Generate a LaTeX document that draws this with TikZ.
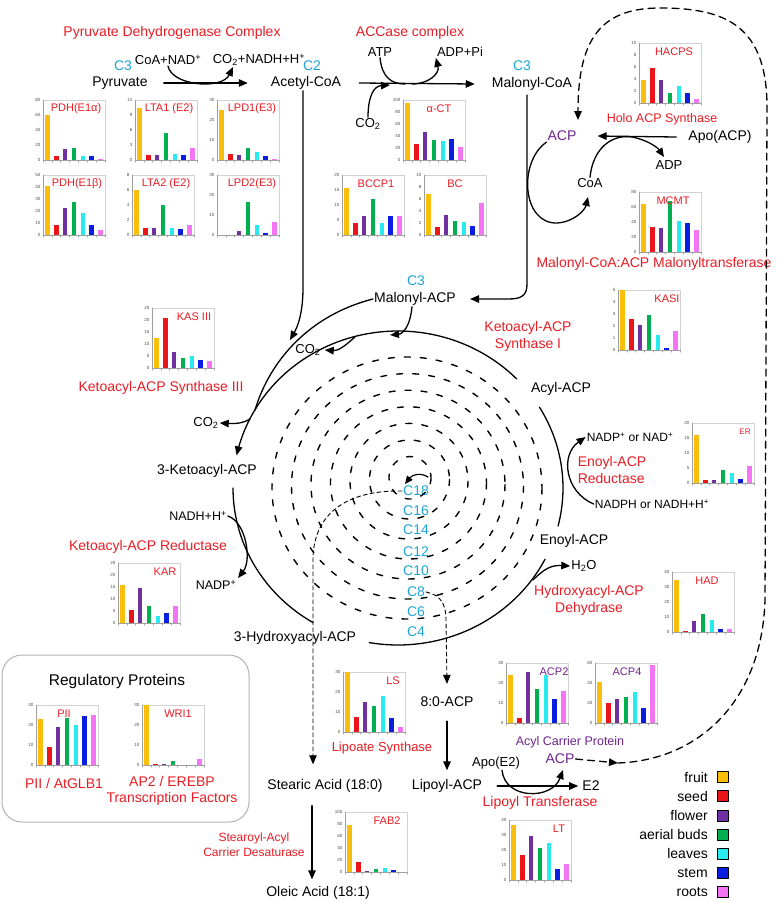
\documentclass[tikz,border=0pt]{standalone}
\usepackage{fontspec}
\setmainfont{Liberation Sans}
\usepackage{tikz}
\usetikzlibrary{arrows.meta}

\definecolor{fruitc}{RGB}{250,190,10}
\definecolor{seedc}{RGB}{235,20,25}
\definecolor{flowerc}{RGB}{112,48,160}
\definecolor{budc}{RGB}{0,176,80}
\definecolor{leafc}{RGB}{40,235,240}
\definecolor{stemc}{RGB}{10,30,225}
\definecolor{rootc}{RGB}{245,115,245}
\definecolor{enzred}{RGB}{232,28,36}
\definecolor{carbcyan}{RGB}{30,165,215}
\definecolor{acppurple}{RGB}{110,35,140}
\colorlet{bar1}{fruitc}
\colorlet{bar2}{seedc}
\colorlet{bar3}{flowerc}
\colorlet{bar4}{budc}
\colorlet{bar5}{leafc}
\colorlet{bar6}{stemc}
\colorlet{bar7}{rootc}

% small expression chart: top-left, max, step, title x, title, title colour, values
\newcommand{\expchart}[7]{%
  \begin{scope}[shift={#1}]
    \draw[gray!35, line width=0.5pt] (0,0) rectangle (62,60);
    \foreach \v [count=\i] in {#7}
      \fill[fill=bar\i] ({(\i-0.5)*8.86-2.3},60) rectangle ++(4.6,{-60*\v/#2});
    \draw[gray!75, line width=0.6pt] (0,0) -- (0,60) -- (62,60);
    \foreach \k in {0,...,7}
      \draw[gray!75, line width=0.5pt] ({\k*8.86},60) -- ++(0,2.2);
    \foreach \t in {0,#3,...,#2}
      \node[ticklbl] at (-2,{60-60*\t/#2}) {\t};
    \node[charttitle, text=#6] at (#4,9) {#5};
  \end{scope}}

\begin{document}
\begin{tikzpicture}[x=1pt, y=-1pt,
    line cap=round,
    line join=round,
    lbl/.style={font=\fontsize{14}{17}\selectfont, inner sep=1pt},
    cof/.style={font=\fontsize{13}{15}\selectfont, inner sep=1pt},
    enz/.style={font=\fontsize{14}{17}\selectfont, text=enzred, inner sep=1pt, align=center},
    carb/.style={font=\fontsize{14}{16}\selectfont, text=carbcyan, inner sep=1pt},
    acpl/.style={font=\fontsize{14}{16}\selectfont, text=acppurple, inner sep=1pt},
    ticklbl/.style={font=\fontsize{4.5}{5}\selectfont, text=gray!60!black, anchor=east, inner sep=0.5pt},
    charttitle/.style={font=\fontsize{11}{12}\selectfont, inner sep=0pt},
    flow/.style={line width=1.3pt},
    arr/.style={line width=1.3pt, -{Triangle[length=9pt,width=7.5pt]}},
    ring/.style={line width=1.4pt, dash pattern=on 6pt off 10pt},
    thindash/.style={line width=0.9pt, dash pattern=on 4pt off 3pt},
    loopdash/.style={line width=1.3pt, dash pattern=on 7pt off 5pt}
]
\useasboundingbox (0,0) rectangle (778,903);

% Charts
\expchart{(43,100)}{80}{20}{33}{PDH(E1α)}{enzred}{60,5,15,16,6,5,1}
\expchart{(135,100)}{12}{3}{34}{LTA1 (E2)}{enzred}{10.5,1,1,5.4,1.3,1,2.4}
\expchart{(217,100)}{30}{10}{35}{LPD1(E3)}{enzred}{25,3,2.5,6,4,2,0.3}
\expchart{(43,175)}{50}{10}{34}{PDH(E1β)}{enzred}{41,8,22.5,27.5,18,8.5,4}
\expchart{(132,175)}{8}{2}{34}{LTA2 (E2)}{enzred}{6,1,1,4,1,0.8,1.3}
\expchart{(217,175)}{30}{10}{35}{LPD2(E3)}{enzred}{0,0,2,16.5,5,1,6.5}
\expchart{(403,100)}{100}{20}{36}{α-CT}{enzred}{95,27,47,33,32,35,22}
\expchart{(342,175)}{20}{5}{34}{BCCP1}{enzred}{15.7,4,6.5,12,4,6.2,6.5}
\expchart{(424,175)}{10}{2}{31}{BC}{enzred}{6.8,1.3,3.4,2.4,2.2,1.5,5.3}
\expchart{(639,43)}{10}{2}{35}{HACPS}{enzred}{3.9,5.9,3.8,1.7,2.9,1.7,0.7}
\expchart{(639,192)}{80}{20}{34}{MCMT}{enzred}{64,34,32,68,41,39,29}
\expchart{(152,308)}{25}{5}{42}{KAS III}{enzred}{12.5,21,6.7,4.3,5,3.5,2.8}
\expchart{(618,290)}{5}{1}{49}{KASI}{enzred}{5,2.6,2.1,2.9,1.25,0.2,1.55}
\expchart{(692,423)}{20}{5}{53}{\fontsize{8}{9}\selectfont ER}{enzred}{16,1,1,4.2,3.2,1.2,5.8}
\expchart{(118,563)}{25}{5}{47}{KAR}{enzred}{16,5.5,14.5,7,3,4,7}
\expchart{(672,572)}{40}{10}{35}{HAD}{enzred}{35,1,7.5,12,8,2,2}
\expchart{(343,672)}{30}{10}{50}{LS}{enzred}{30,7.5,15,12.8,18,7,2.3}
\expchart{(345,812)}{100}{20}{42}{FAB2}{enzred}{79,17,2,4.5,6,3,0.5}
\expchart{(506,663)}{30}{10}{48}{ACP2}{acppurple}{24,2.5,25.5,16.8,24,12,16.2}
\expchart{(595,663)}{60}{20}{32}{ACP4}{acppurple}{41,20,24.5,26.5,31.5,15,58}
\expchart{(509,820)}{40}{10}{50}{LT}{enzred}{37,17,29.5,21.5,24.5,7.2,10.5}
\expchart{(36,705)}{30}{10}{28}{PII}{enzred}{23,9.2,19,23.3,20,24.3,25}
\expchart{(142,705)}{30}{10}{36}{WRI1}{enzred}{30,0.5,0.5,2,0,0.2,3}

% Top line: pyruvate to malonyl-CoA
\node[enz] (pdhc) at (172,33) {Pyruvate Dehydrogenase Complex};
\node[enz] (accase) at (410,33) {ACCase complex};
\node[carb] (cthreea) at (123,66) {C3};
\node[carb] (ctwo) at (312,66) {C2};
\node[carb] (cthreeb) at (522,66) {C3};
\node[lbl] (pyr) at (120,83) {Pyruvate};
\node[lbl] (acoa) at (306,83) {Acetyl-CoA};
\node[lbl] (mcoa) at (532,84) {Malonyl-CoA};
\node[cof] (coanad) at (168,60) {CoA+NAD\textsuperscript{+}};
\node[cof] (co2nadh) at (259,60) {CO\textsubscript{2}+NADH+H\textsuperscript{+}};
\node[cof] (atp) at (380,52) {ATP};
\node[cof] (adppi) at (460,52) {ADP+Pi};
\node[cof] (co2a) at (368,124) {CO\textsubscript{2}};

% ACP loading
\node[acpl] (acpa) at (562,136) {ACP};
\node[lbl] (apoacp) at (720,137) {Apo(ACP)};
\node[cof] (adp) at (669,165) {ADP};
\node[cof] (coa) at (590,183) {CoA};
\node[enz, font=\fontsize{12.5}{14}\selectfont] (hacps) at (662,119) {Holo ACP Synthase};
\node[enz] (mcmt) at (654,264) {Malonyl-CoA:ACP Malonyltransferase};

% Elongation cycle
\node[carb] (cthreec) at (416,281) {C3};
\node[lbl] (macp) at (415,299) {Malonyl-ACP};
\node[enz] (kasi) at (528,336) {Ketoacyl-ACP\\Synthase I};
\node[lbl] (acylacp) at (561,389) {Acyl-ACP};
\node[cof, font=\fontsize{12}{14}\selectfont] (nadpor) at (630,437) {NADP\textsuperscript{+} or NAD\textsuperscript{+}};
\node[enz, align=left] (enr) at (612,470) {Enoyl-ACP\\Reductase};
\node[cof, font=\fontsize{12}{14}\selectfont] (nadphor) at (652,504) {NADPH or NADH+H\textsuperscript{+}};
\node[lbl] (enoyl) at (574,541) {Enoyl-ACP};
\node[cof] (htwoo) at (584,566) {H\textsubscript{2}O};
\node[enz] (had) at (589,600) {Hydroxyacyl-ACP\\Dehydrase};
\node[lbl] (hydroxy) at (295,638) {3-Hydroxyacyl-ACP};
\node[lbl] (keto) at (207,471) {3-Ketoacyl-ACP};
\node[cof, font=\fontsize{12.5}{14}\selectfont] (nadh) at (198,516) {NADH+H\textsuperscript{+}};
\node[cof, font=\fontsize{12.5}{14}\selectfont] (nadp) at (216,585) {NADP\textsuperscript{+}};
\node[enz] (kar) at (148,547) {Ketoacyl-ACP Reductase};
\node[enz] (kasiii) at (161,388) {Ketoacyl-ACP Synthase III};
\node[cof] (co2b) at (308,350) {CO\textsubscript{2}};
\node[cof] (co2c) at (206,423) {CO\textsubscript{2}};

% Chain lengths
\foreach \len/\yy in {18/491,16/511,14/530,12/552,10/571,8/592,6/612,4/632}
  \node[carb] (chain\len) at (416,\yy) {C\len};

% Lipoate and stearate branch
\node[lbl] (ocacp) at (447,702) {8:0-ACP};
\node[lbl] (stearic) at (325,786) {Stearic Acid (18:0)};
\node[lbl] (lipoyl) at (447,786) {Lipoyl-ACP};
\node[lbl] (etwo) at (591,786) {E2};
\node[lbl] (oleic) at (318,893) {Oleic Acid (18:1)};
\node[cof] (apoe) at (496,763) {Apo(E2)};
\node[acpl] (acpb) at (560,759) {ACP};
\node[acpl, font=\fontsize{12.5}{14}\selectfont] (acpname) at (570,742) {Acyl Carrier Protein};
\node[enz, font=\fontsize{13}{15}\selectfont] (lsyn) at (382,748) {Lipoate Synthase};
\node[enz] (ltr) at (540,803) {Lipoyl Transferase};
\node[enz, font=\fontsize{12}{15}\selectfont] (sad) at (254,845) {Stearoyl-Acyl\\Carrier Desaturase};

% Regulatory proteins
\draw[gray!60, line width=1pt, rounded corners=20pt] (2,655) rectangle (249,822);
\node[lbl, font=\fontsize{15.5}{18}\selectfont] (regprot) at (117,681) {Regulatory Proteins};
\node[enz] (pii) at (64,783) {PII / AtGLB1};
\node[enz, font=\fontsize{14}{16}\selectfont] (aptwo) at (172,791) {AP2 / EREBP\\Transcription Factors};

% Legend
\foreach \name/\col [count=\k] in {fruit/fruitc, seed/seedc, flower/flowerc, aerial buds/budc, leaves/leafc, stem/stemc, roots/rootc} {
  \node[lbl, anchor=east] (leg\k) at (709,{777+(\k-1)*19.2}) {\name};
  \draw[fill=\col, line width=0.7pt] (717,{771.5+(\k-1)*19.2}) rectangle ++(11,11);
}

% Connectors, top
\draw[arr] ([xshift=15pt]pyr.east) -- ([xshift=-22pt]acoa.west);
\draw[arr] (coanad.south) .. controls (172,86) and (222,90) .. (233,67);
\draw[arr] ([xshift=17pt]acoa.east) -- ([xshift=-16pt]mcoa.west);
\draw[flow] (atp.south) .. controls (382,78) and (392,84) .. (405,84);
\draw[arr] (412,84) .. controls (428,84) and (440,74) .. (adppi.south west);
\draw[arr] (co2a.north) .. controls (368,96) and (374,86) .. (390,85);

% Connectors, ACP
\draw[arr] ([xshift=-11pt]apoacp.west) -- ([xshift=20pt]acpa.east);
\draw[arr] (coa.north) .. controls (593,148) and (612,134) .. (632,137) .. controls (648,140) and (658,148) .. (664,157);
\draw[arr] (acpa.south west) .. controls (518,162) and (522,224) .. (557,223) .. controls (574,222) and (585,210) .. (588,197);
\coordinate (mcoadown) at (527,95);
\draw[arr] (mcoadown) -- (527,284) .. controls (527,296) and (521,299) .. (508,299) -- ([xshift=13pt]macp.east);

% dashed ACP recycling loop
\coordinate (loopjoin) at (618,763);
\draw[loopdash, -{Triangle[length=9pt,width=7.5pt]}] (acpb.east) -- (loopjoin);
\draw[loopdash, -{Triangle[length=9pt,width=7.5pt]}] (loopjoin) .. controls (700,760) and (762,700) .. (765,600) -- (767,110) .. controls (768,25) and (725,8) .. (660,8) .. controls (600,8) and (578,40) .. (578,120);

% KAS III entry
\draw[arr] ([xshift=-3pt]acoa.south) -- (303,288) .. controls (303,312) and (298,326) .. (290,340);
\draw[flow] (macp.west) .. controls (310,315) and (270,360) .. (255,410);
\draw[arr] (250,419) .. controls (244,423) and (236,424) .. (co2c.east);

% Cycle
\draw[arr] plot[domain=-44:-168, samples=70, smooth] ({398+165*cos(\x)},{488+157*sin(\x)});
\draw[flow] plot[domain=180:121, samples=40, smooth] ({398+165*cos(\x)},{488+157*sin(\x)});
\draw[flow] plot[domain=100:27, samples=50, smooth] ({398+165*cos(\x)},{488+157*sin(\x)});
\draw[flow] plot[domain=14:-31, samples=30, smooth] ({398+165*cos(\x)},{488+157*sin(\x)});
\draw[arr] ([xshift=-3pt]macp.south) .. controls (410,328) and (402,334) .. (390,335);
\draw[arr] (355,337) .. controls (345,346) and (338,351) .. ([xshift=3pt]co2b.east);
\draw[arr] (nadh.east) .. controls (246,522) and (252,560) .. (238,578);
\draw[arr] (533,580) .. controls (545,568) and (552,565) .. (htwoo.west);
\draw[arr] (nadphor.west) .. controls (565,492) and (560,455) .. (nadpor.west);

% Spiral of elongation rounds
\foreach \r in {0,...,6}
  \draw[ring] plot[domain=0:360, samples=90, smooth] ({407+0.5*\r+(135-19*\r)*cos(\x)},{488-1.7*\r+(131-18.3*\r)*sin(\x)});
\draw[line width=1.2pt, -{Triangle[length=8pt,width=7pt]}] (428,477) .. controls (420,472) and (412,475) .. (405,484);

% Exits from the spiral
\draw[thindash, -{Triangle[length=9pt,width=7.5pt]}] (chain18.west) .. controls (345,490) and (313,515) .. (313,560) -- ([xshift=-12pt,yshift=14pt]stearic.north);
\draw[thindash, -{Triangle[length=9pt,width=7.5pt]}] (chain8.east) .. controls (440,595) and (446,603) .. (446,620) -- ([yshift=12pt]ocacp.north);

% Lower connectors
\draw[arr] ([yshift=-13pt]ocacp.south) -- ([yshift=8pt]lipoyl.north);
\draw[arr] ([xshift=-13pt,yshift=-12pt]stearic.south) -- ([xshift=-6pt,yshift=6pt]oleic.north);
\draw[arr] ([xshift=14pt]lipoyl.east) -- ([xshift=-3pt]etwo.west);
\draw[arr] ([xshift=6pt]apoe.south) .. controls (505,800) and (552,800) .. (563,770);

\end{tikzpicture}
\end{document}
